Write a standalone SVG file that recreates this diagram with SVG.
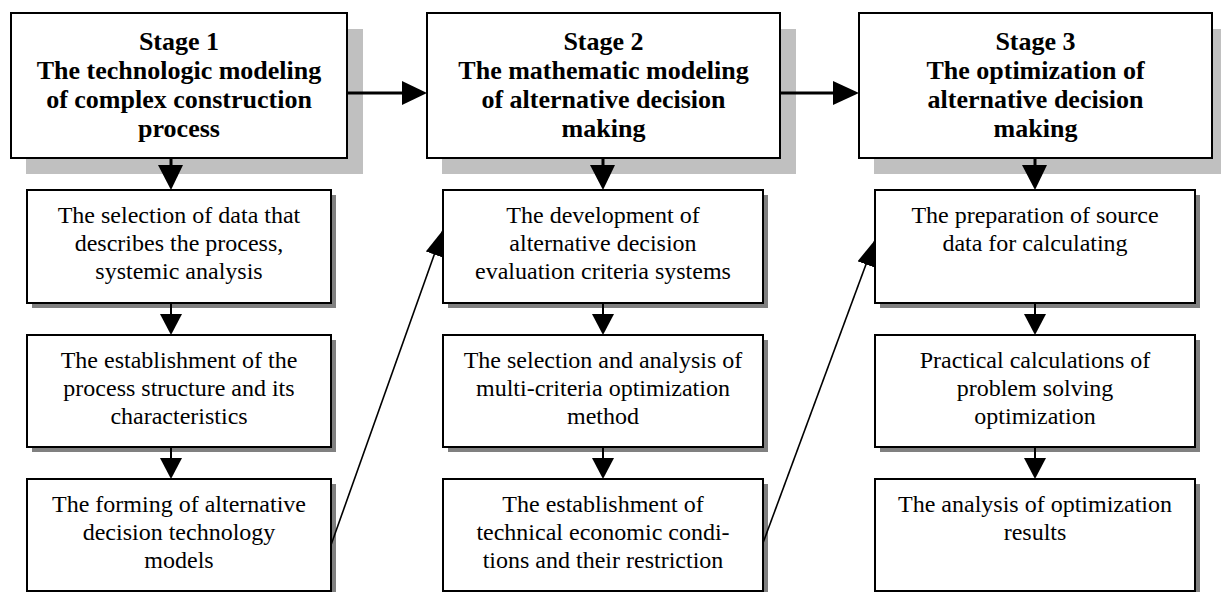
<svg xmlns="http://www.w3.org/2000/svg" width="1221" height="592" viewBox="0 0 1221 592">
<defs>
<marker id="ah" viewBox="0 0 26 18" refX="26" refY="9" markerWidth="26" markerHeight="18" markerUnits="userSpaceOnUse" orient="auto">
<path d="M0,0 L26,9 L0,18 Z" fill="#000"/>
</marker>
</defs>
<style>
.bg{fill:#fff}
.stage{fill:#fff;stroke:#000;stroke-width:2}
.sshadow{fill:#c0c0c0}
.box{fill:#fff;stroke:#000;stroke-width:2}
.bshadow{fill:#808080}
.title{font-family:"Liberation Serif","Times New Roman",serif;font-weight:bold;font-size:26px;text-anchor:middle;fill:#000}
.txt{font-family:"Liberation Serif","Times New Roman",serif;font-size:24px;text-anchor:middle;fill:#000}
.thick{stroke:#000;stroke-width:3;fill:none}
.thin{stroke:#000;stroke-width:2;fill:none}
.diag{stroke:#000;stroke-width:1.6;fill:none}
.head{fill:#000}
</style>
<rect class="bg" x="0" y="0" width="1221" height="592"/>

<g id="stage1">
<rect class="sshadow" x="26" y="29" width="337" height="145"/>
<rect class="stage" x="11" y="13" width="336" height="145"/>
<text class="title" x="179" y="50">Stage 1</text>
<text class="title" x="179" y="79">The technologic modeling</text>
<text class="title" x="179" y="108">of complex construction</text>
<text class="title" x="179" y="137">process</text>
</g>
<g id="stage2">
<rect class="sshadow" x="442" y="29" width="354" height="145"/>
<rect class="stage" x="427" y="13" width="353" height="145"/>
<text class="title" x="603.5" y="50">Stage 2</text>
<text class="title" x="603.5" y="79">The mathematic modeling</text>
<text class="title" x="603.5" y="108">of alternative decision</text>
<text class="title" x="603.5" y="137">making</text>
</g>
<g id="stage3">
<rect class="sshadow" x="874" y="29" width="354" height="145"/>
<rect class="stage" x="859" y="13" width="353" height="145"/>
<text class="title" x="1035.5" y="50">Stage 3</text>
<text class="title" x="1035.5" y="79">The optimization of</text>
<text class="title" x="1035.5" y="108">alternative decision</text>
<text class="title" x="1035.5" y="137">making</text>
</g>

<g id="box1a">
<rect class="bshadow" x="32" y="195" width="304" height="113"/>
<rect class="box" x="27" y="190" width="304" height="113"/>
<text class="txt" x="179" y="223">The selection of data that</text>
<text class="txt" x="179" y="251">describes the process,</text>
<text class="txt" x="179" y="279">systemic analysis</text>
</g>
<g id="box1b">
<rect class="bshadow" x="32" y="340" width="304" height="112"/>
<rect class="box" x="27" y="335" width="304" height="112"/>
<text class="txt" x="179" y="368">The establishment of the</text>
<text class="txt" x="179" y="396">process structure and its</text>
<text class="txt" x="179" y="424">characteristics</text>
</g>
<g id="box1c">
<rect class="bshadow" x="32" y="484" width="304" height="112"/>
<rect class="box" x="27" y="479" width="304" height="112"/>
<text class="txt" x="179" y="512">The forming of alternative</text>
<text class="txt" x="179" y="540">decision technology</text>
<text class="txt" x="179" y="568">models</text>
</g>

<g id="box2a">
<rect class="bshadow" x="448" y="195" width="320" height="113"/>
<rect class="box" x="443" y="190" width="320" height="113"/>
<text class="txt" x="603" y="223">The development of</text>
<text class="txt" x="603" y="251">alternative decision</text>
<text class="txt" x="603" y="279">evaluation criteria systems</text>
</g>
<g id="box2b">
<rect class="bshadow" x="448" y="340" width="320" height="112"/>
<rect class="box" x="443" y="335" width="320" height="112"/>
<text class="txt" x="603" y="368">The selection and analysis of</text>
<text class="txt" x="603" y="396">multi-criteria optimization</text>
<text class="txt" x="603" y="424">method</text>
</g>
<g id="box2c">
<rect class="bshadow" x="448" y="484" width="320" height="112"/>
<rect class="box" x="443" y="479" width="320" height="112"/>
<text class="txt" x="603" y="512">The establishment of</text>
<text class="txt" x="603" y="540">technical economic condi-</text>
<text class="txt" x="603" y="568">tions and their restriction</text>
</g>

<g id="box3a">
<rect class="bshadow" x="880" y="195" width="320" height="113"/>
<rect class="box" x="875" y="190" width="320" height="113"/>
<text class="txt" x="1035" y="223">The preparation of source</text>
<text class="txt" x="1035" y="251">data for calculating</text>
</g>
<g id="box3b">
<rect class="bshadow" x="880" y="340" width="320" height="112"/>
<rect class="box" x="875" y="335" width="320" height="112"/>
<text class="txt" x="1035" y="368">Practical calculations of</text>
<text class="txt" x="1035" y="396">problem solving</text>
<text class="txt" x="1035" y="424">optimization</text>
</g>
<g id="box3c">
<rect class="bshadow" x="880" y="484" width="320" height="112"/>
<rect class="box" x="875" y="479" width="320" height="112"/>
<text class="txt" x="1035" y="512">The analysis of optimization</text>
<text class="txt" x="1035" y="540">results</text>
</g>

<g id="connectors">
<line class="thick" x1="347" y1="93" x2="403" y2="93"/>
<path class="head" d="M402,81 L427,93 L402,105 Z"/>
<line class="thick" x1="780" y1="93" x2="834" y2="93"/>
<path class="head" d="M833,81 L859,93 L833,105 Z"/>

<line class="thick" x1="171" y1="158" x2="171" y2="166"/>
<path class="head" d="M158,165 L183,165 L171,190 Z"/>
<line class="thick" x1="603" y1="158" x2="603" y2="166"/>
<path class="head" d="M590,165 L615,165 L603,190 Z"/>
<line class="thick" x1="1035" y1="158" x2="1035" y2="166"/>
<path class="head" d="M1022,165 L1047,165 L1035,190 Z"/>

<line class="thin" x1="171" y1="303" x2="171" y2="315"/>
<path class="head" d="M160,314 L182,314 L171,335 Z"/>
<line class="thin" x1="171" y1="447" x2="171" y2="459"/>
<path class="head" d="M160,458 L182,458 L171,479 Z"/>
<line class="thin" x1="603" y1="303" x2="603" y2="315"/>
<path class="head" d="M592,314 L614,314 L603,335 Z"/>
<line class="thin" x1="603" y1="447" x2="603" y2="459"/>
<path class="head" d="M592,458 L614,458 L603,479 Z"/>
<line class="thin" x1="1035" y1="303" x2="1035" y2="315"/>
<path class="head" d="M1024,314 L1046,314 L1035,335 Z"/>
<line class="thin" x1="1035" y1="447" x2="1035" y2="459"/>
<path class="head" d="M1024,458 L1046,458 L1035,479 Z"/>

<line class="diag" x1="331" y1="545" x2="443" y2="230" marker-end="url(#ah)"/>
<line class="diag" x1="763" y1="543" x2="875" y2="240" marker-end="url(#ah)"/>
</g>
</svg>
